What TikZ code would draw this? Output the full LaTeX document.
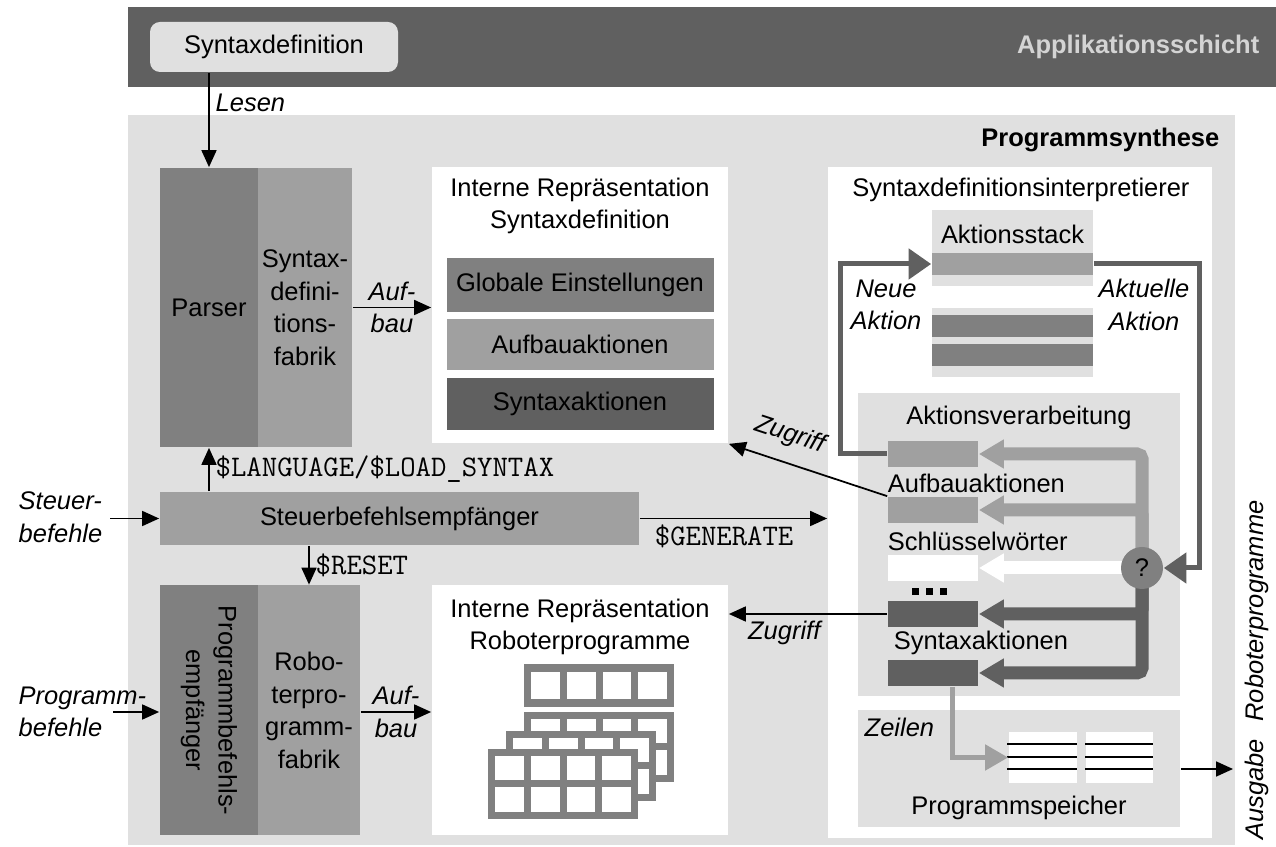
\documentclass[tikz,border=0pt]{standalone}
\usepackage{fontspec}
\setmainfont{Liberation Sans}
\usetikzlibrary{arrows.meta}

\definecolor{dunkel}{HTML}{606060}
\definecolor{mittel}{HTML}{808080}
\definecolor{hell}{HTML}{A0A0A0}
\definecolor{grund}{HTML}{E0E0E0}
\definecolor{blass}{HTML}{D4D4D4}

\newcommand\schrift{\fontsize{14.5}{18.5}\selectfont}

\tikzset{
	block/.style={fill=#1, inner sep=0pt, align=center},
	masse/.style args={#1x#2}{minimum width=#1*0.02cm, minimum height=#2*0.02cm},
	lbl/.style={font=\schrift\itshape},
	tt/.style={font=\fontsize{17}{20}\selectfont\ttfamily},
	zweig/.style={line width=0.26cm, rounded corners=0.1cm, -{Triangle[length=0.5cm,width=0.55cm]}},
	schleife/.style={dunkel, line width=0.1cm, -{Triangle[length=0.45cm,width=0.6cm]}}
}

\begin{document}
\begin{tikzpicture}[x=0.02cm, y=-0.02cm, font=\schrift, line width=1pt, >={Triangle[length=0.34cm,width=0.3cm]}]

\useasboundingbox (0,0) rectangle (1276,847);
\fill[dunkel] (128,7) rectangle (1276,87);
\fill[grund] (128,115) rectangle (1235,845);

\node[block=grund, masse=248x50, rounded corners=0.2cm] (syndef) at (274,47) {Syntaxdefinition};
\node[anchor=east, font=\schrift\bfseries, text=blass] at (1266,47) {Applikationsschicht};
\node[anchor=east, font=\schrift\bfseries] at (1226,140) {Programmsynthese};

% Parser und interne Repraesentation der Syntax
\node[block=mittel, masse=98x279] (parser) at (209,307.5) {Parser};
\node[block=hell, masse=94x279] (sdfab) at (305,307.5) {Syntax-\\defini-\\tions-\\fabrik};

\node[block=white, masse=296x276] (irsyn) at (580,305) {};
\node[align=center] at (580,206) {Interne Repräsentation\\Syntaxdefinition};
\node[block=mittel, masse=267x54] (glob) at (580,285) {Globale Einstellungen};
\node[block=hell, masse=267x51] (aufb) at (580,344.5) {Aufbauaktionen};
\node[block=dunkel, masse=267x52] (synt) at (580,404) {Syntaxaktionen};

\node[block=hell, masse=479x53] (sbe) at (399.5,518.5) {Steuerbefehlsempfänger};

% Programmempfang und Roboterprogramme
\node[block=mittel, masse=98x250] (pbe) at (209,710.5) {};
\node[rotate=-90, align=center] at (pbe) {Programmbefehls-\\empfänger};
\node[block=hell, masse=102x250] (rpf) at (309,710.5) {Robo-\\terpro-\\gramm-\\fabrik};

\node[block=white, masse=296x250] (irrob) at (580,710) {};
\node[align=center] at (580,627) {Interne Repräsentation\\Roboterprogramme};

\foreach \x/\y in {524/712, 506/731, 488/749}{
	\fill[mittel] (\x,\y) rectangle ++(150,70);
	\foreach \i in {0,...,3}
		\foreach \j in {0,1}
			\fill[white] ({\x+7+\i*35.75},{\y+7+\j*31.5}) rectangle ++(28.75,24.5);
}
\fill[mittel] (524,664) rectangle ++(150,43);
\foreach \i in {0,...,3}
	\fill[white] ({531+\i*35.75},672) rectangle ++(28.75,27);

% Interpretierer
\node[block=white, masse=384x671] (interp) at (1020,502.5) {};
\node at (1021,190) {Syntaxdefinitionsinterpretierer};
\node[block=grund, masse=161x76] (stackoben) at (1012.5,248) {};
\node at (1012.5,234) {Aktionsstack};
\node[block=hell, masse=161x22] (sbar) at (1012.5,264) {};
\node[block=grund, masse=161x69] (stackunten) at (1012.5,342.5) {};
\node[block=mittel, masse=161x22] at (1012.5,326) {};
\node[block=mittel, masse=161x22] at (1012.5,355) {};
\node[lbl, align=center] at (886,305) {Neue\\Aktion};
\node[lbl, align=center] at (1144,305) {Aktuelle\\Aktion};

\node[block=grund, masse=322x303] (verarb) at (1019,544.5) {};
\node at (1019,418) {Aktionsverarbeitung};
\node[block=hell, masse=90x26] (b1) at (933,454) {};
\node[block=hell, masse=90x26] (b2) at (933,510) {};
\node[block=white, masse=90x26] (b3) at (933,568) {};
\node[block=dunkel, masse=90x26] (b4) at (933,614) {};
\node[block=dunkel, masse=90x26] (b5) at (933,673) {};
\node[anchor=west, inner sep=0pt] at (887,483) {Aufbauaktionen};
\node[anchor=west, inner sep=0pt] at (887,541) {Schlüsselwörter};
\node[anchor=west, inner sep=0pt] at (893,643) {Syntaxaktionen};
\foreach \x in {912,926,940}
	\fill (\x,588) rectangle ++(7,7);

\coordinate (q) at (1142,568);
\draw[zweig, hell] (q) |- (b1.east);
\draw[zweig, hell] (q) |- (b2.east);
\draw[zweig, white] (q) -- (b3.east);
\draw[zweig, dunkel] (q) |- (b4.east);
\draw[zweig, dunkel] (q) |- (b5.east);
\node[circle, fill=mittel, minimum size=42*0.02cm, inner sep=0pt] (frage) at (q) {?};

\draw[schleife] (b1.west) -- (840,454) |- (sbar.west);
\draw[schleife] (sbar.east) -- (1199,264) |- (frage.east);

% Programmspeicher
\node[block=grund, masse=322x117] (psp) at (1019,768.5) {};
\node[anchor=west, lbl] at (858,727) {Zeilen};
\node at (1019,808) {Programmspeicher};
\node[block=white, masse=68x51] (zeile1) at (1043,757.5) {};
\node[block=white, masse=67x51] (zeile2) at (1119.5,757.5) {};
\foreach \y in {744,757,769}{
	\draw[line width=1.5pt] (1007,\y) -- (1077,\y);
	\draw[line width=1.5pt] (1085,\y) -- (1153,\y);
}
\draw[hell, line width=0.1cm, -{Triangle[length=0.46cm,width=0.5cm]}] ([xshift=0.38cm]b5.south) |- (zeile1.west);

% Verbindungen
\draw[->] (syndef.south -| parser) -- node[pos=0.32, right, lbl] {Lesen} (parser.north);
\draw[->] (sdfab.east) -- (sdfab.east -| irsyn.west) node[midway, lbl, align=center] {Auf-\\bau};
\draw[->] (sbe.north -| parser) -- node[right, tt] {\$LANGUAGE/\$LOAD\_SYNTAX} (parser.south);

\coordinate (steuer) at (110,518.5);
\draw[->] (steuer) -- (sbe.west);
\node[anchor=west, align=left, lbl] at (12,517) {Steuer-\\befehle};

\draw[->] (sbe.east) -- (sbe.east -| interp.west) node[pos=0.45, below, tt] {\$GENERATE};
\draw[->] (sbe.south -| rpf) -- node[right, tt] {\$RESET} (rpf.north);

\coordinate (programm) at (113,712);
\draw[->] (programm) -- (programm -| pbe.west);
\node[anchor=west, align=left, lbl] at (12,712) {Programm-\\befehle};
\draw[->] (rpf.east |- programm) -- (programm -| irrob.west) node[midway, lbl, align=center] {Auf-\\bau};

\draw[->] (b2.north west) -- node[pos=0.67, above=5pt, sloped, lbl] {Zugriff} (irsyn.south east);
\draw[->] (b4.west) -- (b4.west -| irrob.east) node[pos=0.65, below, lbl] {Zugriff};

\coordinate (aus) at (1233,769);
\draw[->] (aus -| psp.east) -- (aus);
\node[rotate=90, lbl] at (1257,670) {Ausgabe\hspace{10pt}Roboterprogramme};

\end{tikzpicture}
\end{document}
